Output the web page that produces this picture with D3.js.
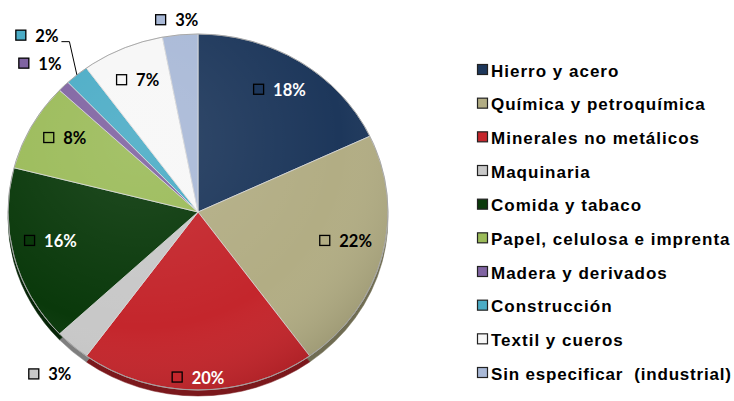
<!DOCTYPE html>
<html>
<head>
<meta charset="utf-8">
<script src="https://cdn.jsdelivr.net/npm/d3@7/dist/d3.min.js"></script>
<style>
  html, body { margin: 0; padding: 0; background: #ffffff; }
  svg { display: block; }
</style>
</head>
<body>
<svg id="chart" width="734" height="401"></svg>
<script>
// ---- data ----
const categories = [
  "Hierro y acero",
  "Química y petroquímica",
  "Minerales no metálicos",
  "Maquinaria",
  "Comida y tabaco",
  "Papel, celulosa e imprenta",
  "Madera y derivados",
  "Construcción",
  "Textil y cueros",
  "Sin especificar  (industrial)"
];
const values = [18, 22, 20, 3, 16, 8, 1, 2, 7, 3];
const valueLabels = ["18%", "22%", "20%", "3%", "16%", "8%", "1%", "2%", "7%", "3%"];
const colors = ["#1d375b", "#b2ad84", "#c4262c", "#c8c8c8", "#0a390b", "#9bbb59", "#8064a2", "#4bacc6", "#f7f7f7", "#a9b9d7"];
const labelColors = ["#ffffff", "#000000", "#ffffff", "#000000", "#ffffff", "#000000", "#000000", "#000000", "#000000", "#000000"];

// ---- layout ----
const W = 734, H = 401;
const cx = 198, cy = 212, rx = 190, ry = 178, depth = 6;

const svg = d3.select("#chart");
svg.append("rect").attr("width", W).attr("height", H).attr("fill", "#ffffff");

const defs = svg.append("defs");
const rg = defs.append("radialGradient").attr("id", "shade")
  .attr("cx", "35%").attr("cy", "30%").attr("r", "75%");
rg.append("stop").attr("offset", "0%").attr("stop-color", "#ffffff").attr("stop-opacity", 0.10);
rg.append("stop").attr("offset", "70%").attr("stop-color", "#ffffff").attr("stop-opacity", 0.0);
rg.append("stop").attr("offset", "100%").attr("stop-color", "#000000").attr("stop-opacity", 0.10);

const pie = d3.pie().sort(null).value(d => d).startAngle(0).endAngle(2 * Math.PI);
const arcs = pie(values);
const arc = d3.arc().innerRadius(0).outerRadius(rx);

const gPie = svg.append("g").attr("transform", `translate(${cx},${cy}) scale(1,${ry / rx})`);

// side (3D rim)
const gSide = gPie.append("g").attr("transform", `translate(0,${depth * rx / ry})`);
gSide.selectAll("path").data(arcs).enter().append("path")
  .attr("d", arc)
  .attr("fill", (d, i) => d3.color(colors[i]).darker(1.3))
  .attr("stroke", (d, i) => d3.color(colors[i]).darker(1.3))
  .attr("stroke-width", 0.5)
  .attr("vector-effect", "non-scaling-stroke");

// top face
gPie.selectAll("path.slice").data(arcs).enter().append("path")
  .attr("class", "slice")
  .attr("d", arc)
  .attr("fill", (d, i) => colors[i])
  .attr("stroke", "#dcdcdc")
  .attr("stroke-width", 0.8)
  .attr("vector-effect", "non-scaling-stroke");

// soft lighting overlay
gPie.append("path")
  .attr("d", d3.arc().innerRadius(0).outerRadius(rx)({ startAngle: 0, endAngle: 2 * Math.PI }))
  .attr("fill", "url(#shade)")
  .attr("stroke", "#9a9a9a")
  .attr("stroke-width", 0.8)
  .attr("vector-effect", "non-scaling-stroke");

// ---- data labels ----
const ex = (f, a) => cx + f * rx * Math.sin(a);
const ey = (f, a) => cy - f * ry * Math.cos(a);

const gLab = svg.append("g");
const labelFont = "Lato, 'Open Sans', sans-serif";

const items = arcs.map((d, i) => {
  const mid = (d.startAngle + d.endAngle) / 2;
  const s = Math.sin(mid), c = Math.cos(mid);
  const g = gLab.append("g");
  const t = g.append("text")
    .text(valueLabels[i])
    .attr("font-family", labelFont)
    .attr("font-weight", 700)
    .attr("font-size", 16.5)
    .attr("fill", labelColors[i]);
  const tw = t.node().getComputedTextLength();
  const w = 20 + tw, h = 14;
  let x, y;
  const inside = values[i] >= 5;
  if (inside) {
    const f = 0.8 + 0.13 * Math.pow(Math.max(0, -c), 3);
    x = ex(f, mid);
    y = ey(f, mid) - 7 * s * s;
  } else {
    const px = cx + (rx + 5) * s;
    const py = cy - (ry + 5) * c + (c < 0 ? depth : 0);
    const k = Math.abs(s * c);
    x = px + s * w / 2 + 10 * k * Math.sign(s);
    y = py - c * h / 2 - 28 * k * Math.sign(c);
  }
  return { i, mid, g, t, tw, w, x, y, inside };
});

// resolve overlapping outside labels (push the upper one up)
const outside = items.filter(d => !d.inside).sort((a, b) => b.y - a.y);
for (let k = 1; k < outside.length; k++) {
  const a = outside[k - 1], b = outside[k];
  if (Math.abs(a.x - b.x) < (a.w + b.w) / 2 && a.y - b.y < 28) {
    b.moved = true;
    b.y = a.y - 28;
    b.x = a.x + (a.w - b.w) / 2 - 3;
  }
}

items.forEach(d => {
  const x0 = d.x - d.w / 2;
  d.g.insert("rect", "text")
    .attr("x", x0 + 0.5).attr("y", d.y - 5.5)
    .attr("width", 10).attr("height", 10)
    .attr("fill", colors[d.i])
    .attr("stroke", "#000000")
    .attr("stroke-width", 1.3);
  d.t.attr("x", x0 + 20).attr("y", d.y + 6);
  if (d.moved) {
    const lx = x0 + d.w + 3, ly = d.y + 6;
    gLab.append("polyline")
      .attr("points", [[lx, ly], [lx + 8, ly], [ex(1.0, d.mid), ey(1.0, d.mid)]].map(p => p.join(",")).join(" "))
      .attr("fill", "none")
      .attr("stroke", "#000000")
      .attr("stroke-width", 1);
  }
});

// ---- legend ----
const rowY = d3.scalePoint().domain(categories).range([70, 373]);
const gLeg = svg.append("g");
const legX = 491, legRight = 731;
categories.forEach((c, i) => {
  const y = rowY(c);
  gLeg.append("rect")
    .attr("x", 477.5).attr("y", y - 5.5)
    .attr("width", 10).attr("height", 10)
    .attr("fill", colors[i])
    .attr("stroke", "#222222")
    .attr("stroke-width", 1.2);
  const t = gLeg.append("text")
    .attr("x", legX).attr("y", y + 6.5)
    .attr("font-family", "'Liberation Sans', Arial, sans-serif")
    .attr("font-weight", 700)
    .attr("font-size", 17)
    .attr("letter-spacing", 1.0)
    .style("white-space", "pre")
    .attr("fill", "#000000")
    .text(c);
  const len = t.node().getComputedTextLength();
  if (legX + len > legRight) {
    t.attr("letter-spacing", 0).attr("textLength", legRight - legX).attr("lengthAdjust", "spacing");
  }
});
</script>
</body>
</html>
